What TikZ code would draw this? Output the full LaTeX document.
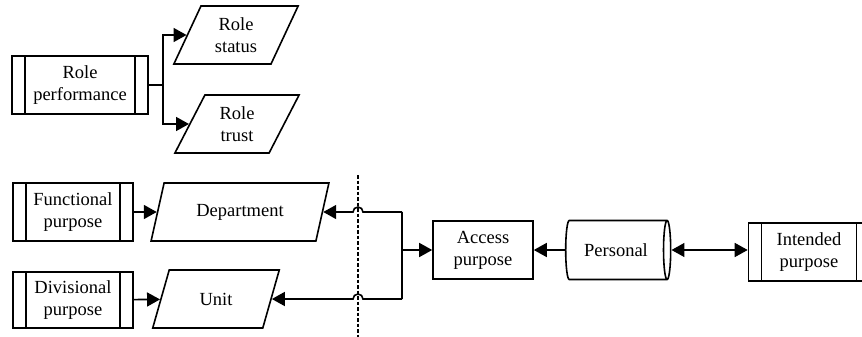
\documentclass[tikz,border=0pt]{standalone}
\usepackage{fontspec}
\setmainfont{Liberation Serif}
\usetikzlibrary{shapes.geometric,arrows.meta,positioning,calc}

\tikzset{
  base/.style={line width=1.6pt, align=center, inner sep=0pt,
    font=\fontsize{18.5}{22}\selectfont},
  procbox/.style={base, draw, rectangle, minimum height=58pt,
    path picture={
      \draw[line width=1.6pt] ([xshift=13pt]path picture bounding box.north west)
        -- ([xshift=13pt]path picture bounding box.south west);
      \draw[line width=1.6pt] ([xshift=-13pt]path picture bounding box.north east)
        -- ([xshift=-13pt]path picture bounding box.south east);}},
  databox/.style={base, draw, trapezium, trapezium left angle=65,
    trapezium right angle=115, trapezium stretches=true, minimum height=58pt},
  plainbox/.style={base, draw, rectangle, minimum width=100pt, minimum height=58pt},
  storebox/.style={base, draw, cylinder, aspect=0.55, minimum width=59pt,
    minimum height=105pt, shape border rotate=0},
  conn/.style={line width=1.6pt, -{Triangle[length=13pt,width=14pt]}},
  cut/.style={line width=1.6pt, dash pattern=on 3.5pt off 2pt}
}

\begin{document}
\begin{tikzpicture}[x=1pt,y=-1pt]
\useasboundingbox (0,0) rectangle (862,337);

% role part
\node[procbox, minimum width=136pt] (roleperf) at (80,85) {Role\\performance};
\node[databox, minimum width=125pt] (rolestatus) at (236,35) {Role\\status};
\node[databox, minimum width=125pt] (roletrust) at (237,124) {Role\\trust};

\draw[conn] (roleperf.east) -- ++(14,0) |- (rolestatus);
\draw[conn] (roleperf.east) -- ++(14,0) |- (roletrust);

% purposes
\node[procbox, minimum width=120pt] (funcp) at (73,212) {Functional\\purpose};
\node[procbox, minimum width=120pt, minimum height=56pt] (divp) at (73,300) {Divisional\\purpose};
\node[databox, minimum width=178pt] (dept) at (240,212) {Department};
\node[databox, minimum width=127pt] (unit) at (216,299) {Unit};

\node[plainbox] (access) at (483,250) {Access\\purpose};
\node[storebox] (personal) at (616,250) {Personal};
\node[procbox, minimum width=121pt] (intended) at (809,252) {Intended\\purpose};

\draw[conn] (funcp) -- (dept);
\draw[conn] (divp) -- (unit);

% boundary
\coordinate (cuttop) at (358,175);
\coordinate (cutbot) at (358,337);
\draw[cut] (cuttop) -- (cutbot);

\coordinate (brtop) at (402,212);
\coordinate (brbot) at (402,299);
\coordinate (brmid) at (402,250);
\coordinate (hoptop) at (363,212);
\coordinate (hopbot) at (363,299);

\draw[line width=1.6pt] (brtop) -- (brbot);
\draw[conn] (brtop) -- (hoptop) arc[start angle=0, end angle=-180, radius=5] -- (dept);
\draw[conn] (brbot) -- (hopbot) arc[start angle=0, end angle=-180, radius=5] -- (unit);
\draw[conn] (brmid) -- (access);

\draw[conn] (personal) -- (access);
\draw[line width=1.6pt, {Triangle[length=13pt,width=14pt]}-{Triangle[length=13pt,width=14pt]}]
  (personal.east) -- (personal.east -| intended.west);
\end{tikzpicture}
\end{document}
